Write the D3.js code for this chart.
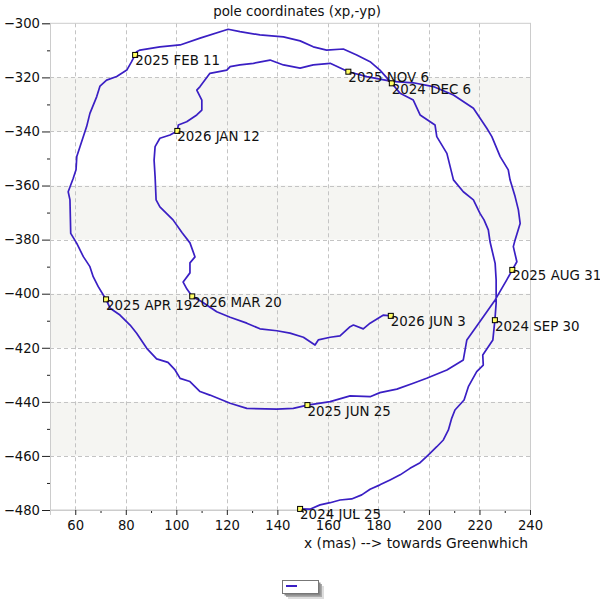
<!DOCTYPE html>
<html>
<head>
<meta charset="utf-8">
<script src="https://cdn.jsdelivr.net/npm/d3@7"></script>
<style>
  body { margin: 0; background: #fff; }
  svg { display: block; font-family: "DejaVu Sans", sans-serif; }
</style>
</head>
<body>
<div id="chart"></div>
<script>
// pole track, xp (mas) and -yp (mas)
const xp = [
  149.0, 152.9, 156.9, 160.9, 164.8, 169.4, 173.4, 176.7, 180.6, 184.6,
  188.6, 192.5, 196.5, 199.8, 203.1, 205.7, 207.7, 209.0, 210.3, 213.9,
  215.6, 218.9, 221.5, 221.3, 223.5, 225.3, 226.1, 226.6, 226.6, 226.2,
  224.2, 223.5, 221.8, 220.2, 217.6, 213.6, 209.7, 207.1, 203.1, 202.4,
  196.5, 193.8, 188.6, 185.3, 180.6, 176.7, 171.4, 166.1, 159.5, 154.2,
  149.0, 142.4, 133.1, 125.2, 120.5, 109.4, 101.5, 93.5, 85.6, 84.3,
  83.7, 82.3, 80.4, 76.4, 72.4, 69.8, 68.5, 65.8, 64.5, 61.9,
  60.6, 60.3, 59.2, 57.2, 57.9, 58.2, 60.6, 63.2, 65.8, 67.1,
  69.1, 71.1, 72.2, 73.8, 77.7, 81.7, 84.3, 88.3, 92.2, 96.7,
  99.5, 101.5, 105.4, 109.4, 113.3, 121.3, 127.9, 139.8, 146.3, 151.9,
  160.9, 168.8, 176.7, 180.6, 187.3, 193.8, 199.1, 207.1, 213.6, 215.0,
  220.2, 226.2, 230.8, 233.0, 234.8, 233.4, 234.1, 236.1, 235.4, 234.1,
  232.1, 231.4, 228.2, 224.9, 222.9, 217.6, 209.7, 201.7, 193.8, 185.3,
  175.4, 168.1, 160.9, 154.2, 149.0, 142.4, 137.1, 130.5, 125.2, 121.3,
  120.0, 113.3, 109.4, 108.1, 110.1, 110.1, 108.1, 104.1, 100.8, 100.4,
  97.5, 93.5, 91.6, 91.2, 91.6, 92.0, 93.5, 98.7, 102.3, 105.4,
  107.4, 105.4, 105.4, 102.7, 104.2, 106.3, 110.1, 116.0, 121.3, 127.9,
  133.1, 139.8, 145.0, 150.3, 154.9, 156.2, 160.9, 164.8, 168.8, 170.1,
  174.0, 176.7, 182.0, 184.9
];
const yp = [
  -479.6, -479.7, -478.1, -477.3, -476.3, -475.9, -474.4, -472.3, -470.7, -468.9,
  -467.0, -464.6, -462.5, -459.6, -456.6, -454.1, -450.4, -446.1, -443.0, -439.3,
  -434.4, -428.8, -426.4, -422.7, -419.6, -417.1, -409.8, -403.5, -394.9, -388.8,
  -380.9, -376.4, -372.7, -370.3, -365.3, -362.3, -357.9, -348.1, -341.9, -337.6,
  -333.9, -328.4, -325.9, -322.2, -317.3, -314.2, -311.7, -309.5, -309.9, -308.7,
  -306.5, -305.0, -304.3, -303.1, -302.2, -305.5, -308.0, -308.7, -309.9, -310.5,
  -311.7, -314.2, -317.3, -319.7, -321.0, -323.2, -327.1, -333.3, -338.2, -345.6,
  -349.3, -354.2, -357.3, -362.3, -365.3, -377.7, -381.4, -386.3, -390.0, -393.7,
  -397.4, -400.5, -402.1, -405.4, -407.9, -411.6, -414.6, -420.2, -424.1, -425.4,
  -428.2, -431.3, -432.5, -436.2, -437.5, -440.5, -442.4, -442.7, -442.4, -441.2,
  -439.9, -437.8, -438.1, -436.6, -435.3, -433.1, -431.3, -428.2, -424.5, -417.1,
  -410.3, -402.3, -394.9, -391.2, -388.2, -382.6, -380.1, -374.0, -369.0, -364.1,
  -357.9, -354.2, -349.3, -341.9, -338.8, -331.4, -326.5, -323.4, -322.0, -321.5,
  -319.7, -317.9, -314.8, -315.4, -316.6, -315.4, -313.6, -314.8, -315.4, -316.0,
  -317.3, -318.5, -323.4, -324.7, -328.4, -332.1, -333.9, -336.4, -337.6, -339.8,
  -341.3, -342.5, -345.6, -350.6, -356.7, -365.3, -367.9, -372.7, -377.5, -381.2,
  -386.4, -388.6, -392.3, -395.7, -398.3, -401.0, -403.0, -406.7, -408.7, -410.9,
  -413.0, -413.7, -414.6, -416.1, -419.0, -417.1, -416.1, -415.6, -412.2, -411.6,
  -413.0, -410.9, -407.9, -408.2
];

// dated marks along the track
const markLabels = ['2024 JUL 25', '2024 SEP 30', '2024 DEC 6', '2025 FEB 11', '2025 APR 19',
  '2025 JUN 25', '2025 AUG 31', '2025 NOV 6', '2026 JAN 12', '2026 MAR 20', '2026 JUN 3'];
const markX = [149.0, 226.1, 185.3, 83.7, 72.2, 151.9, 233.0, 168.1, 100.4, 106.3, 184.9];
const markY = [-479.6, -409.8, -322.2, -311.7, -402.1, -441.2, -391.2, -317.9, -339.8, -401.0, -408.2];

const xTicks = [60, 80, 100, 120, 140, 160, 180, 200, 220, 240];
const yTicks = [-300, -320, -340, -360, -380, -400, -420, -440, -460, -480];
const bandStarts = [-320, -360, -400, -440];

const width = 600;
const height = 600;
const pLeft = 50, pRight = 530, pTop = 23.3, pBottom = 510;

const svg = d3.select('#chart').append('svg')
  .attr('width', width)
  .attr('height', height);

const x = d3.scaleLinear().domain([50, 240]).range([pLeft, pRight]);
const y = d3.scaleLinear().domain([-300, -480]).range([pTop, pBottom]);

// shaded bands
svg.append('g').selectAll('rect')
  .data(bandStarts)
  .enter().append('rect')
  .attr('x', pLeft)
  .attr('y', d => y(d))
  .attr('width', pRight - pLeft)
  .attr('height', d => y(d - 20) - y(d))
  .attr('fill', '#f5f5f2');

// dashed grid
const grid = svg.append('g')
  .attr('stroke', '#c4c4c4')
  .attr('stroke-dasharray', '4,3')
  .attr('stroke-width', 1);
grid.selectAll('.gx')
  .data(xTicks.filter(d => d < 240))
  .enter().append('line')
  .attr('x1', d => Math.round(x(d)) + 0.5)
  .attr('x2', d => Math.round(x(d)) + 0.5)
  .attr('y1', pTop)
  .attr('y2', pBottom);
grid.selectAll('.gy')
  .data(yTicks.slice(1, -1))
  .enter().append('line')
  .attr('x1', pLeft)
  .attr('x2', pRight)
  .attr('y1', d => Math.round(y(d)) + 0.5)
  .attr('y2', d => Math.round(y(d)) + 0.5);

// plot frame
svg.append('rect')
  .attr('x', pLeft + 0.5)
  .attr('y', pTop)
  .attr('width', pRight - pLeft)
  .attr('height', pBottom - pTop)
  .attr('fill', 'none')
  .attr('stroke', '#cccccc');

// axes: minor ticks then major ticks
const xMinor = d3.range(70, 240, 20);
const yMinor = d3.range(-310, -480, -20);

svg.append('g')
  .attr('transform', `translate(0,${pBottom})`)
  .call(d3.axisBottom(x).tickValues(xMinor).tickSize(3).tickFormat(''))
  .call(g => g.select('.domain').remove())
  .call(g => g.selectAll('line').attr('stroke', '#222'));

svg.append('g')
  .attr('transform', `translate(0,${pBottom})`)
  .call(d3.axisBottom(x).tickValues(xTicks).tickSize(5).tickPadding(6))
  .call(g => g.select('.domain').attr('stroke', '#cccccc'))
  .call(g => g.selectAll('line').attr('stroke', '#222'))
  .call(g => g.selectAll('text')
    .attr('font-size', 13.2)
    .attr('font-family', '"DejaVu Sans", sans-serif')
    .attr('fill', '#111'));

svg.append('g')
  .attr('transform', `translate(${pLeft},0)`)
  .call(d3.axisLeft(y).tickValues(yMinor).tickSize(3).tickFormat(''))
  .call(g => g.select('.domain').remove())
  .call(g => g.selectAll('line').attr('stroke', '#222'));

svg.append('g')
  .attr('transform', `translate(${pLeft},0)`)
  .call(d3.axisLeft(y).tickValues(yTicks).tickSize(8).tickPadding(2))
  .call(g => g.select('.domain').attr('stroke', '#cccccc'))
  .call(g => g.selectAll('line').attr('stroke', '#222'))
  .call(g => g.selectAll('text')
    .attr('font-size', 13.2)
    .attr('font-family', '"DejaVu Sans", sans-serif')
    .attr('fill', '#111'));

// the track
const pts = xp.map((v, i) => [v, yp[i]]);
svg.append('path')
  .datum(pts)
  .attr('fill', 'none')
  .attr('stroke', '#3a1fc4')
  .attr('stroke-width', 1.7)
  .attr('stroke-linejoin', 'round')
  .attr('d', d3.line().x(d => x(d[0])).y(d => y(d[1])));

// date marks
const marks = svg.append('g').selectAll('g')
  .data(markLabels.map((t, i) => ({ t, mx: markX[i], my: markY[i] })))
  .enter().append('g')
  .attr('transform', d => `translate(${x(d.mx)},${y(d.my)})`);

marks.append('rect')
  .attr('x', -2.5)
  .attr('y', -2.5)
  .attr('width', 5)
  .attr('height', 5)
  .attr('fill', '#ffff66')
  .attr('stroke', '#000')
  .attr('stroke-width', 1);

marks.append('text')
  .attr('x', 0)
  .attr('y', 10.5)
  .attr('font-size', 13.4)
  .attr('fill', '#111')
  .text(d => d.t);

// titles
svg.append('text')
  .attr('x', 297)
  .attr('y', 16)
  .attr('text-anchor', 'middle')
  .attr('font-size', 13.4)
  .attr('fill', '#111')
  .text('pole coordinates (xp,-yp)');

svg.append('text')
  .attr('x', 528)
  .attr('y', 548)
  .attr('text-anchor', 'end')
  .attr('font-size', 13.8)
  .attr('fill', '#111')
  .text('x (mas) --> towards Greenwhich');

// legend box with shadow
const lg = svg.append('g').attr('transform', 'translate(282,580)');
lg.append('rect').attr('x', 6).attr('y', 6).attr('width', 36).attr('height', 13).attr('fill', '#dddddd');
lg.append('rect').attr('x', 4).attr('y', 4).attr('width', 36).attr('height', 13).attr('fill', '#aaaaaa');
lg.append('rect').attr('x', 2.5).attr('y', 2.5).attr('width', 36).attr('height', 13).attr('fill', '#888888');
lg.append('rect')
  .attr('x', 0.5).attr('y', 0.5)
  .attr('width', 36).attr('height', 13)
  .attr('fill', '#fff')
  .attr('stroke', '#777')
  .attr('stroke-width', 1);
lg.append('line')
  .attr('x1', 4).attr('x2', 15)
  .attr('y1', 6).attr('y2', 6)
  .attr('stroke', '#3a1fc4')
  .attr('stroke-width', 2);
</script>
</body>
</html>
